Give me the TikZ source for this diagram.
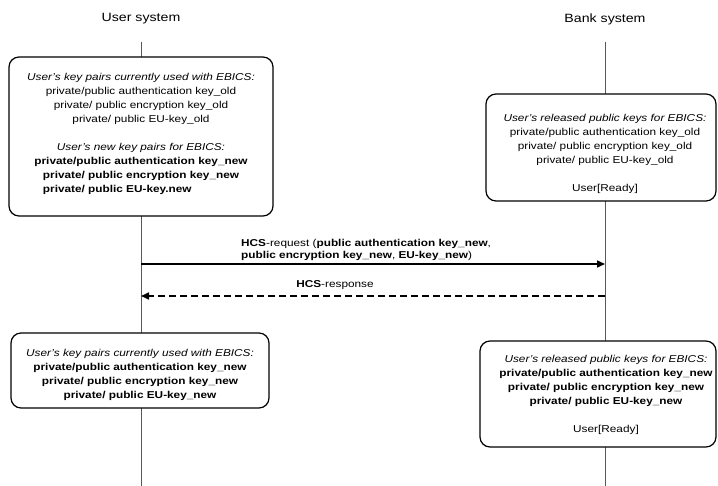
\documentclass[tikz,border=0pt]{standalone}
\usepackage{fontspec}
\setmainfont[FakeStretch=1.18]{Liberation Sans}
\usepackage{calc}
\usetikzlibrary{arrows.meta}
\begin{document}
\begin{tikzpicture}[x=1pt,y=-1pt,
  box/.style={draw=black, line width=1.2pt, rounded corners=10pt, fill=white, inner sep=0pt},
  txt/.style={align=center, font=\fontsize{10}{14}\selectfont, inner sep=0pt},
  ttl/.style={font=\fontsize{12}{14}\selectfont, inner sep=0pt},
  life/.style={draw=black!65, line width=0.9pt},
  msg/.style={line width=1.6pt, -{Triangle[length=8pt,width=7pt]}},
  lbl/.style={font=\fontsize{10}{12}\selectfont, inner sep=0pt}]
\useasboundingbox (0,0) rectangle (718,486);
\node[ttl] (ut) at (141,19) {User system};
\node[ttl] (bt) at (605,19) {Bank system};
\coordinate (uTop) at (141,42); \coordinate (uBot) at (141,486);
\coordinate (bTop) at (605,42); \coordinate (bBot) at (605,486);
\draw[life] (uTop) -- (uBot);
\draw[life] (bTop) -- (bBot);
% boxes
\node[box, minimum width=264pt, minimum height=159pt] (ub1) at (141,136.5) {};
\node[box, minimum width=230pt, minimum height=107pt] (bb1) at (601,147.5) {};
\node[box, minimum width=258pt, minimum height=75pt] (ub2) at (140,370.5) {};
\node[box, minimum width=236pt, minimum height=106pt] (bb2) at (598,394) {};
% texts
\node[txt] (ut1) at (141,134) {\textit{User's key pairs currently used with EBICS:}\\
private/public authentication key\_old\\
private/ public encryption key\_old\\
private/ public EU-key\_old\\[14pt]
\textit{User's new key pairs for EBICS:}\\
\textbf{private/public authentication key\_new}\\
\textbf{private/ public encryption key\_new}\\
\makebox[\widthof{\textbf{private/ public encryption key\_new}}][l]{\textbf{private/ public EU-key.new}}};
\node[txt] (bt1) at (605,153.5) {\textit{User's released public keys for EBICS:}\\
private/public authentication key\_old\\
private/ public encryption key\_old\\
private/ public EU-key\_old\\[14pt]
User[Ready]};
\node[txt] (ut2) at (140,374.5) {\textit{User's key pairs currently used with EBICS:}\\
\textbf{private/public authentication key\_new}\\
\textbf{private/ public encryption key\_new}\\
\textbf{private/ public EU-key\_new}};
\node[txt] (bt2) at (606,395) {\textit{User's released public keys for EBICS:}\\
\textbf{private/public authentication key\_new}\\
\textbf{private/ public encryption key\_new}\\
\textbf{private/ public EU-key\_new}\\[14pt]
User[Ready]};
% messages
\coordinate (m1s) at (141,264); \coordinate (m1e) at (605,264);
\coordinate (m2s) at (605,296); \coordinate (m2e) at (141,296);
\draw[msg] (m1s) -- (m1e);
\draw[msg, dash pattern=on 7pt off 4pt] (m2s) -- (m2e);
\node[lbl, align=left, anchor=west] (l1) at (241,250) {\textbf{HCS}-request (\textbf{public authentication key\_new},\\
\textbf{public encryption key\_new}, \textbf{EU-key\_new})};
\node[lbl] (l2) at (335,285.5) {\textbf{HCS}-response};
\end{tikzpicture}
\end{document}
